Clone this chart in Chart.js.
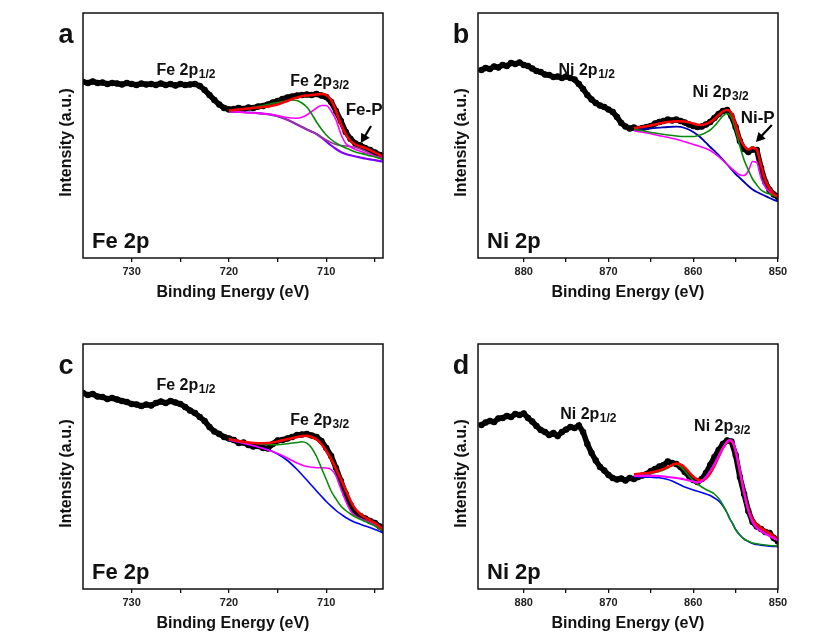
<!DOCTYPE html>
<html>
<head>
<meta charset="utf-8">
<script src="https://cdn.jsdelivr.net/npm/chart.js@4.4.1/dist/chart.umd.min.js"></script>
<style>
  body { margin: 0; background: #fff; width: 831px; height: 636px; position: relative; overflow: hidden; }
  .panel { position: absolute; width: 360px; height: 305px; }
</style>
</head>
<body>
<div class="panel" style="left:40px;top:0px"><canvas id="panelA" width="360" height="305"></canvas></div>
<div class="panel" style="left:435px;top:0px"><canvas id="panelB" width="360" height="305"></canvas></div>
<div class="panel" style="left:40px;top:331px"><canvas id="panelC" width="360" height="305"></canvas></div>
<div class="panel" style="left:435px;top:331px"><canvas id="panelD" width="360" height="305"></canvas></div>
<script>
// ---- tick positions (eV) ----
const feTicks = [705, 710, 715, 720, 725, 730];
const niTicks = [850, 855, 860, 865, 870, 875, 880];

// ---- raw spectra, binding energy grids ----
const feRawE = [735, 734.5, 734, 733.5, 733, 732.5, 732, 731.5, 731, 730.5,
  730, 729.5, 729, 728.5, 728, 727.5, 727, 726.5, 726, 725.5,
  725, 724.5, 724, 723.5, 723, 722.5, 722, 721.5, 721, 720.5,
  720, 719.5, 719, 718.5, 718, 717.5, 717, 716.5, 716, 715.5,
  715, 714.5, 714, 713.5, 713, 712.5, 712, 711.5, 711, 710.5,
  710, 709.5, 709, 708.5, 708, 707.5, 707, 706.5, 706, 705.5,
  705, 704.5, 704];
const niRawE = [885, 884.5, 884, 883.5, 883, 882.5, 882, 881.5, 881, 880.5,
  880, 879.5, 879, 878.5, 878, 877.5, 877, 876.5, 876, 875.5,
  875, 874.5, 874, 873.5, 873, 872.5, 872, 871.5, 871, 870.5,
  870, 869.5, 869, 868.5, 868, 867.5, 867, 866.5, 866, 865.5,
  865, 864.5, 864, 863.5, 863, 862.5, 862, 861.5, 861, 860.5,
  860, 859.5, 859, 858.5, 858, 857.5, 857, 856.5, 856, 855.5,
  855, 854.5, 854, 853.5, 853, 852.5, 852, 851.5, 851, 850.5,
  850];

// (a) Fe 2p raw counts
const aRaw = [176, 175, 176.5, 175, 175.5, 174, 175, 174.5, 173.5, 175,
  174, 173, 174.5, 173.5, 174, 173, 174.5, 173, 174, 172.5,
  174, 173, 173.5, 174, 172, 168, 163, 158, 153.5, 150,
  148.5, 149, 150, 149, 150.5, 150, 151.5, 152, 153.5, 155.5,
  157, 159, 160.5, 161.5, 162.5, 163, 163.5, 163, 164, 162.5,
  161, 156, 147, 137, 126, 119, 114.5, 112.5, 110, 108,
  105.5, 103, 100.5];
// (b) Ni 2p raw counts
const bRaw = [188, 190, 189, 191.5, 190.5, 193, 192, 195, 194, 195.5,
  193, 192, 189.5, 187, 186, 183.5, 183, 181, 181.5, 180,
  181.5, 180, 178.5, 174, 169, 163, 158.5, 155, 152.5, 151,
  148.5, 146, 141, 135, 131.5, 129.5, 130.5, 129, 130, 131,
  132, 134.5, 136, 137, 138.5, 137.5, 138.5, 137, 135.5, 133.5,
  132, 131, 131.5, 133.5, 136, 140, 144, 147, 148, 142,
  131, 117, 109, 106, 108.5, 108, 90, 76, 68, 63.5,
  61];
// (c) Fe 2p raw counts
const cRaw = [196, 194, 195, 192.5, 192, 190, 191, 189.5, 188, 187,
  185, 184.5, 183, 184.5, 183.5, 186, 187.5, 186, 188, 186.5,
  185, 182, 178.5, 176, 172, 168, 162, 157.5, 155, 152,
  150.5, 149, 146, 146.5, 144, 142.5, 143, 141, 140.5, 145,
  148.5, 149, 150.5, 152, 154, 154.5, 155, 153.5, 152, 148,
  141, 133, 121, 108, 95, 84, 76, 73, 70.5, 68,
  66, 62.5, 58];
// (d) Ni 2p raw counts
const dRaw = [164, 166.5, 168, 167, 170.5, 171, 173, 172, 175, 174,
  175.5, 171, 167.5, 163, 159, 157, 154, 156, 153, 157,
  159.5, 162, 161, 163.5, 157, 145, 136, 128.5, 122, 118.5,
  114, 111, 109.5, 110.5, 108.5, 111, 110, 112, 113.5, 115,
  118, 120, 122.5, 124, 127.5, 126, 125, 122, 117, 113,
  109, 107, 110, 116, 124, 132, 139, 145, 148.5, 147.5,
  134, 112, 95, 78, 67, 62.5, 60, 57, 56, 51,
  47.5];

// ---- fitted curves ----
const aFitE = [720, 719, 718, 717, 716, 715, 714, 713.5, 713, 712.5, 712, 711.5, 711, 710.5, 710,
  709.5, 709, 708.5, 708, 707.5, 707, 706.5, 706, 705.5, 705, 704.2];
const aEnvelope = [147.5, 148.5, 149.5, 150.5, 151.5, 153.5, 157, 159, 160.5, 161.8, 162.5, 163, 163.5, 164, 163,
  158, 147, 134, 124, 117, 113.5, 111.5, 110, 107.8, 105.5, 101.5];
const aPeak713 = [147.3, 148.3, 149.8, 151.5, 153.5, 155.5, 157.3, 158, 157.5, 155, 151, 144, 136, 129, 123,
  118.5, 115, 112.3, 110, 108, 106, 104.7, 103.5, 102.2, 101, 98.8];
const aPeak710 = [146.3, 146, 145.3, 144.6, 144, 142.5, 140.5, 140, 139.7, 140.8, 143, 146.5, 150, 152.5, 152.5,
  147, 138, 124, 114.5, 111, 108.5, 106.7, 105, 103.5, 102, 99.7];
const aFeP = [146.3, 146, 145.5, 144.8, 143.8, 141.8, 138.3, 136, 133.5, 131, 128.5, 126.3, 124, 121, 118,
  115.5, 113.5, 112.5, 112, 111.5, 110.5, 109, 107, 104.5, 102, 98.5];
const aBackground = [146.3, 146, 145.5, 144.8, 143.8, 141.8, 138.3, 136, 133.5, 131, 128.5, 126.3, 124, 120.5, 116.5,
  112.5, 109, 106, 104, 102.7, 101.5, 100.5, 99.5, 98.6, 97.8, 96.3];

const bFitE = [867, 866, 865, 864, 863, 862, 861, 860, 859.5, 859, 858.5, 858, 857.5, 857, 856.5,
  856, 855.5, 855, 854.5, 854, 853.5, 853, 852.5, 852, 851.5, 851, 850.5, 850];
const bEnvelope = [130, 131, 132.5, 134.5, 136, 136.8, 136.5, 134.5, 133.3, 133, 134, 136, 139, 143, 146.5,
  148, 145, 134, 120, 112, 108.5, 110.3, 108, 93, 78, 70, 64, 61.5];
const bNiMain = [128.7, 127.2, 125.5, 124.3, 123, 122, 121.5, 121.5, 122.3, 123.5, 125.5, 128, 132, 137, 142,
  144.5, 140.5, 128, 112, 98, 88, 79, 73, 68, 65.5, 64, 62.3, 61];
const bNiP = [127.3, 125.8, 124.3, 122.3, 120.8, 118.7, 116.2, 113.5, 112.3, 111, 109.5, 107.5, 104.7, 101.3, 97.5,
  93.5, 89.7, 86, 83, 82.5, 87, 96.5, 95.5, 80, 71, 66, 63.5, 61.5];
const bSatellite = [128, 128.8, 129.6, 130.3, 131, 131.3, 130, 126, 123, 119.5, 115.3, 111, 107, 103, 98.2,
  93.5, 88.7, 84, 80, 76, 72, 68.5, 66, 64, 62, 60, 58.2, 56.5];

const cFitE = [720, 719, 718, 717, 716, 715, 714, 713, 712.5, 712, 711.5, 711, 710.5, 710,
  709.5, 709, 708.5, 708, 707.5, 707, 706.5, 706, 705, 704.2];
const cEnvelope = [150, 148, 146.5, 145.8, 146, 147.5, 149.8, 152, 153, 153.3, 152, 149.5, 145, 138,
  130, 120, 110, 99, 88, 80, 75, 71.5, 66, 60];
const cPeak712 = [150, 148, 146.5, 145.3, 144.5, 144.3, 145.2, 146.5, 147.2, 145.8, 141, 132.5, 121, 109.5,
  98, 90, 83, 78.5, 75, 72, 69.7, 67.5, 63, 58];
const cPeak710 = [149, 147, 144.5, 142, 139, 135.5, 131, 126, 124, 122.5, 121.8, 121.3, 121.2, 121,
  119.5, 113, 100, 88, 78, 73, 70.5, 68.5, 64, 58.5];
const cBackground = [149, 147, 144.5, 142, 139.5, 135, 128.5, 119.5, 114.3, 109, 103.5, 98, 92.7, 87.5,
  82.8, 78.5, 74.8, 71.5, 68.8, 66.5, 64.7, 63, 59.5, 56.3];

const dFitE = [867, 866, 865, 864, 863, 862.5, 862, 861.5, 861, 860.5, 860, 859.5, 859, 858.5, 858,
  857.5, 857, 856.5, 856, 855.7, 855.3, 855, 854.5, 854, 853.5, 853, 852.5, 852, 851, 850];
const dEnvelope = [114.7, 115.5, 116.5, 118.5, 122, 124, 125.5, 124.5, 121.5, 117, 112.5, 109.5, 108.5, 110.5, 115.5,
  123, 132, 141, 146.5, 148.5, 146, 138, 118, 97, 80, 70, 64.5, 61, 56, 49];
const dNiMain = [113, 113.2, 113.3, 113, 112, 111.5, 111, 110.3, 109.5, 108.5, 107.5, 106.5, 108, 112, 118,
  125, 133, 141, 147.5, 149, 146, 138, 118, 96, 78, 67, 61, 58, 53, 48.5];
const dSatellite = [114, 114.5, 115.5, 117.5, 121, 123.5, 124.5, 122.5, 118, 113, 108.5, 105, 102, 99.5, 97.5,
  95, 90.5, 84, 76, 70.5, 64.5, 59.5, 54, 50, 47.8, 46, 45.2, 44.5, 43.5, 43];
const dBackground = [112.3, 112, 111.7, 111.2, 109.5, 108, 106, 104, 102, 100.5, 99, 97.8, 96.5, 95, 93.5,
  91, 88, 83, 76, 70.5, 64.5, 59.5, 54, 50, 47.5, 45.5, 44.5, 43.8, 42.8, 42.3];

const FONT = "'Liberation Sans', Arial, sans-serif";
Chart.defaults.font.family = FONT;

const pts = (xs, ys) => xs.map((x, i) => ({ x: x, y: ys[i] }));

function fitLine(xs, ys, color, w) {
  return { data: pts(xs, ys), borderColor: color, borderWidth: w, pointRadius: 0,
    cubicInterpolationMode: 'monotone', fill: false };
}
function rawLine(xs, ys) {
  return { data: pts(xs, ys), borderColor: '#000', borderWidth: 5.5, pointRadius: 3.2,
    pointBackgroundColor: '#000', pointBorderWidth: 0, tension: 0, fill: false };
}

// frame, y title and text notes drawn on the chart
const notesPlugin = {
  id: 'notes',
  afterDatasetsDraw(chart, args, opts) {
    const { ctx, chartArea: ca, scales: { x, y } } = chart;
    ctx.save();
    ctx.strokeStyle = '#111';
    ctx.lineWidth = 1.5;
    ctx.strokeRect(ca.left, ca.top, ca.right - ca.left, ca.bottom - ca.top);

    // y axis title, sits a little below the middle like the original
    ctx.save();
    ctx.translate(ca.left - 16, (ca.top + ca.bottom) / 2 + 7);
    ctx.rotate(-Math.PI / 2);
    ctx.fillStyle = '#111';
    ctx.font = 'bold 16px ' + FONT;
    ctx.textAlign = 'center';
    ctx.textBaseline = 'middle';
    ctx.fillText('Intensity (a.u.)', 0, 0);
    ctx.restore();

    ctx.fillStyle = '#111';
    ctx.textBaseline = 'alphabetic';
    ctx.textAlign = 'left';
    (opts.labels || []).forEach(l => {
      const px = x.getPixelForValue(l.x), py = y.getPixelForValue(l.y);
      ctx.font = 'bold ' + (l.size || 16) + 'px ' + FONT;
      ctx.fillText(l.main, px, py);
      if (l.sub) {
        const w = ctx.measureText(l.main).width;
        ctx.font = 'bold 12px ' + FONT;
        ctx.fillText(l.sub, px + w + 0.5, py + 3);
      }
    });

    if (opts.arrow) {
      const a = opts.arrow;
      const x0 = x.getPixelForValue(a[0]), y0 = y.getPixelForValue(a[1]);
      const x1 = x.getPixelForValue(a[2]), y1 = y.getPixelForValue(a[3]);
      const ang = Math.atan2(y1 - y0, x1 - x0);
      const c = Math.cos(ang), s = Math.sin(ang);
      ctx.strokeStyle = '#000';
      ctx.lineWidth = 2.2;
      ctx.beginPath();
      ctx.moveTo(x0, y0);
      ctx.lineTo(x1 - 6 * c, y1 - 6 * s);
      ctx.stroke();
      ctx.beginPath();
      ctx.moveTo(x1, y1);
      ctx.lineTo(x1 - 9 * c + 5 * s, y1 - 9 * s - 5 * c);
      ctx.lineTo(x1 - 9 * c - 5 * s, y1 - 9 * s + 5 * c);
      ctx.closePath();
      ctx.fillStyle = '#000';
      ctx.fill();
    }

    // panel letter and element label
    ctx.fillStyle = '#111';
    ctx.textAlign = 'center';
    ctx.font = 'bold 27px ' + FONT;
    ctx.fillText(opts.letter, ca.left - 17, ca.top + 30);
    ctx.textAlign = 'left';
    ctx.font = 'bold 22px ' + FONT;
    ctx.fillText(opts.corner, ca.left + 9, ca.bottom - 10);
    ctx.restore();
  }
};

function makeChart(id, xMin, xMax, tickVals, datasets, notes) {
  new Chart(document.getElementById(id), {
    type: 'line',
    data: { datasets: datasets },
    plugins: [notesPlugin],
    options: {
      responsive: false,
      animation: false,
      devicePixelRatio: 1,
      layout: { padding: { top: 13, right: 17, left: 0, bottom: 0 } },
      scales: {
        x: {
          type: 'linear', reverse: true, min: xMin, max: xMax,
          afterBuildTicks: s => { s.ticks = tickVals.map(v => ({ value: v })); },
          afterFit: s => { s.height = 47; },
          grid: { display: true, drawOnChartArea: false, drawTicks: true, tickLength: 4, color: '#111', lineWidth: 1.3 },
          border: { display: false },
          ticks: {
            autoSkip: false, maxRotation: 0, padding: 3, color: '#222',
            font: { size: 11, weight: 'bold' },
            callback: v => (v % 10 === 0 ? String(v) : '')
          },
          title: { display: true, text: 'Binding Energy (eV)', color: '#111',
            font: { size: 16, weight: 'bold', lineHeight: 1 }, padding: { top: 0, bottom: 4 } }
        },
        y: {
          min: 0, max: 245,
          afterFit: s => { s.width = 43; },
          ticks: { display: false },
          grid: { display: false },
          border: { display: false },
          title: { display: false }
        }
      },
      plugins: { legend: { display: false }, tooltip: { enabled: false }, notes: notes }
    }
  });
}

// datasets listed top-most first
makeChart('panelA', 704.17, 735, feTicks, [
  fitLine(aFitE, aEnvelope, '#ff0000', 2.5),
  fitLine(aFitE, aPeak713, '#0a8a0a', 1.6),
  fitLine(aFitE, aPeak710, '#ff00ff', 1.6),
  fitLine(aFitE, aFeP, '#9a3a9a', 1.6),
  fitLine(aFitE, aBackground, '#8000ff', 2.2),
  rawLine(feRawE, aRaw)
], {
  letter: 'a', corner: 'Fe 2p',
  labels: [
    { x: 727.45, y: 183, main: 'Fe 2p', sub: '1/2' },
    { x: 713.7, y: 172, main: 'Fe 2p', sub: '3/2' },
    { x: 708.0, y: 143, main: 'Fe-P', size: 17 }
  ],
  arrow: [705.4, 132, 706.45, 115]
});

makeChart('panelB', 850, 885.4, niTicks, [
  fitLine(bFitE, bEnvelope, '#ff0000', 2.5),
  fitLine(bFitE, bNiMain, '#0a8a0a', 1.6),
  fitLine(bFitE, bNiP, '#ff00ff', 1.6),
  fitLine(bFitE, bSatellite, '#0000b0', 1.8),
  rawLine(niRawE, bRaw)
], {
  letter: 'b', corner: 'Ni 2p',
  labels: [
    { x: 875.9, y: 183, main: 'Ni 2p', sub: '1/2' },
    { x: 860.1, y: 161.3, main: 'Ni 2p', sub: '3/2' },
    { x: 854.4, y: 134.7, main: 'Ni-P', size: 17 }
  ],
  arrow: [850.73, 133, 852.6, 116]
});

makeChart('panelC', 704.17, 735, feTicks, [
  fitLine(cFitE, cEnvelope, '#ff0000', 2.5),
  fitLine(cFitE, cPeak712, '#0a8a0a', 1.6),
  fitLine(cFitE, cPeak710, '#ff00ff', 1.6),
  fitLine(cFitE, cBackground, '#0000ff', 1.6),
  rawLine(feRawE, cRaw)
], {
  letter: 'c', corner: 'Fe 2p',
  labels: [
    { x: 727.45, y: 199, main: 'Fe 2p', sub: '1/2' },
    { x: 713.7, y: 164, main: 'Fe 2p', sub: '3/2' }
  ]
});

makeChart('panelD', 850, 885.4, niTicks, [
  fitLine(dFitE, dNiMain, '#ff00ff', 2.2),
  fitLine(dFitE, dEnvelope, '#ff0000', 2.5),
  fitLine(dFitE, dSatellite, '#0a8a0a', 1.6),
  fitLine(dFitE, dBackground, '#0000ff', 1.6),
  rawLine(niRawE, dRaw)
], {
  letter: 'd', corner: 'Ni 2p',
  labels: [
    { x: 875.7, y: 169.7, main: 'Ni 2p', sub: '1/2' },
    { x: 859.9, y: 158, main: 'Ni 2p', sub: '3/2' }
  ]
});
</script>
</body>
</html>
